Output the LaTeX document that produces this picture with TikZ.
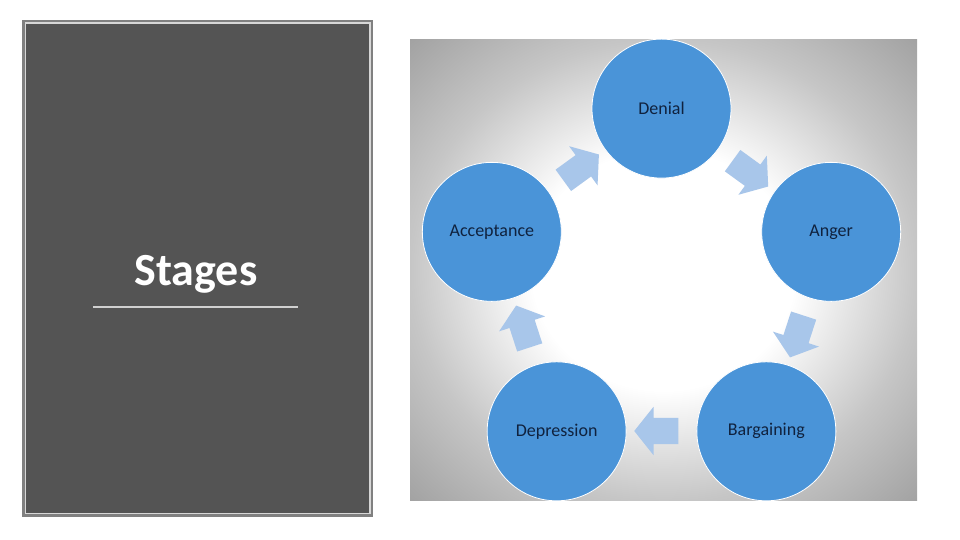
\documentclass[tikz,border=0pt]{standalone}
\usepackage{fontspec}
\setmainfont{Carlito}
\usetikzlibrary{shapes.arrows}
\usepackage{xcolor}

\definecolor{panelgray}{RGB}{84,84,84}
\definecolor{rimgray}{RGB}{128,128,128}
\definecolor{rimlight}{RGB}{215,215,215}
\definecolor{rulegray}{RGB}{208,208,208}
\definecolor{stageblue}{RGB}{74,148,216}
\definecolor{stagetext}{RGB}{16,34,62}
\definecolor{arrowblue}{RGB}{168,198,234}
\definecolor{shademid}{RGB}{198,198,198}
\definecolor{shadeedge}{RGB}{160,160,160}
\pgfdeclareradialshading{glow}{\pgfpoint{0bp}{0bp}}{color(0bp)=(white); color(13bp)=(white); color(25bp)=(shademid); color(36bp)=(shadeedge); color(50bp)=(shadeedge)}

\begin{document}
\begin{tikzpicture}[x=1pt,y=1pt,
  stage/.style={circle, fill=stageblue, draw=white, line width=0.8pt, minimum size=139pt, inner sep=0pt, text=stagetext, font=\fontsize{18}{20}\selectfont},
  cyclearrow/.style={single arrow, fill=arrowblue, minimum height=44pt, inner xsep=0pt, inner ysep=13pt, single arrow head extend=11pt, single arrow tip angle=103}]
  \useasboundingbox (0,0) rectangle (960,540);

  % Title panel on the left
  \fill[rimgray] (22,23) rectangle (373,520);
  \fill[rimlight] (24.5,25.5) rectangle (370.5,517.5);
  \fill[panelgray] (26,27) rectangle (369,516);
  \node (title) [anchor=base, text=white, font=\bfseries\fontsize{46}{50}\selectfont] at (196,254) {Stages};
  \draw[rulegray, line width=2pt] (93,233) -- (298,233);

  % Picture of the cycle
  \shade[shading=glow] (410,39) rectangle (917,500);
  \coordinate (hub) at (661.5,253);

  \node (denial)     [stage] at ([shift={(90:178.4)}]hub) {Denial};
  \node (anger)      [stage] at ([shift={(18:178.4)}]hub) {Anger};
  \node (bargaining) [stage] at ([shift={(-54:178.4)}]hub) {Bargaining};
  \node (depression) [stage] at ([shift={(-126:178.4)}]hub) {Depression};
  \node (acceptance) [stage] at ([shift={(162:178.4)}]hub) {Acceptance};

  % Arrows between the stages
  \node (toanger)      [cyclearrow, rotate=-36]  at ([shift={(54:144)}]hub) {};
  \node (tobargaining) [cyclearrow, rotate=-108] at ([shift={(-18:144)}]hub) {};
  \node (todepression) [cyclearrow, rotate=180]  at ([shift={(-90:144)}]hub) {};
  \node (toacceptance) [cyclearrow, rotate=108]  at ([shift={(-162:144)}]hub) {};
  \node (todenial)     [cyclearrow, rotate=36]   at ([shift={(126:144)}]hub) {};
\end{tikzpicture}
\end{document}
